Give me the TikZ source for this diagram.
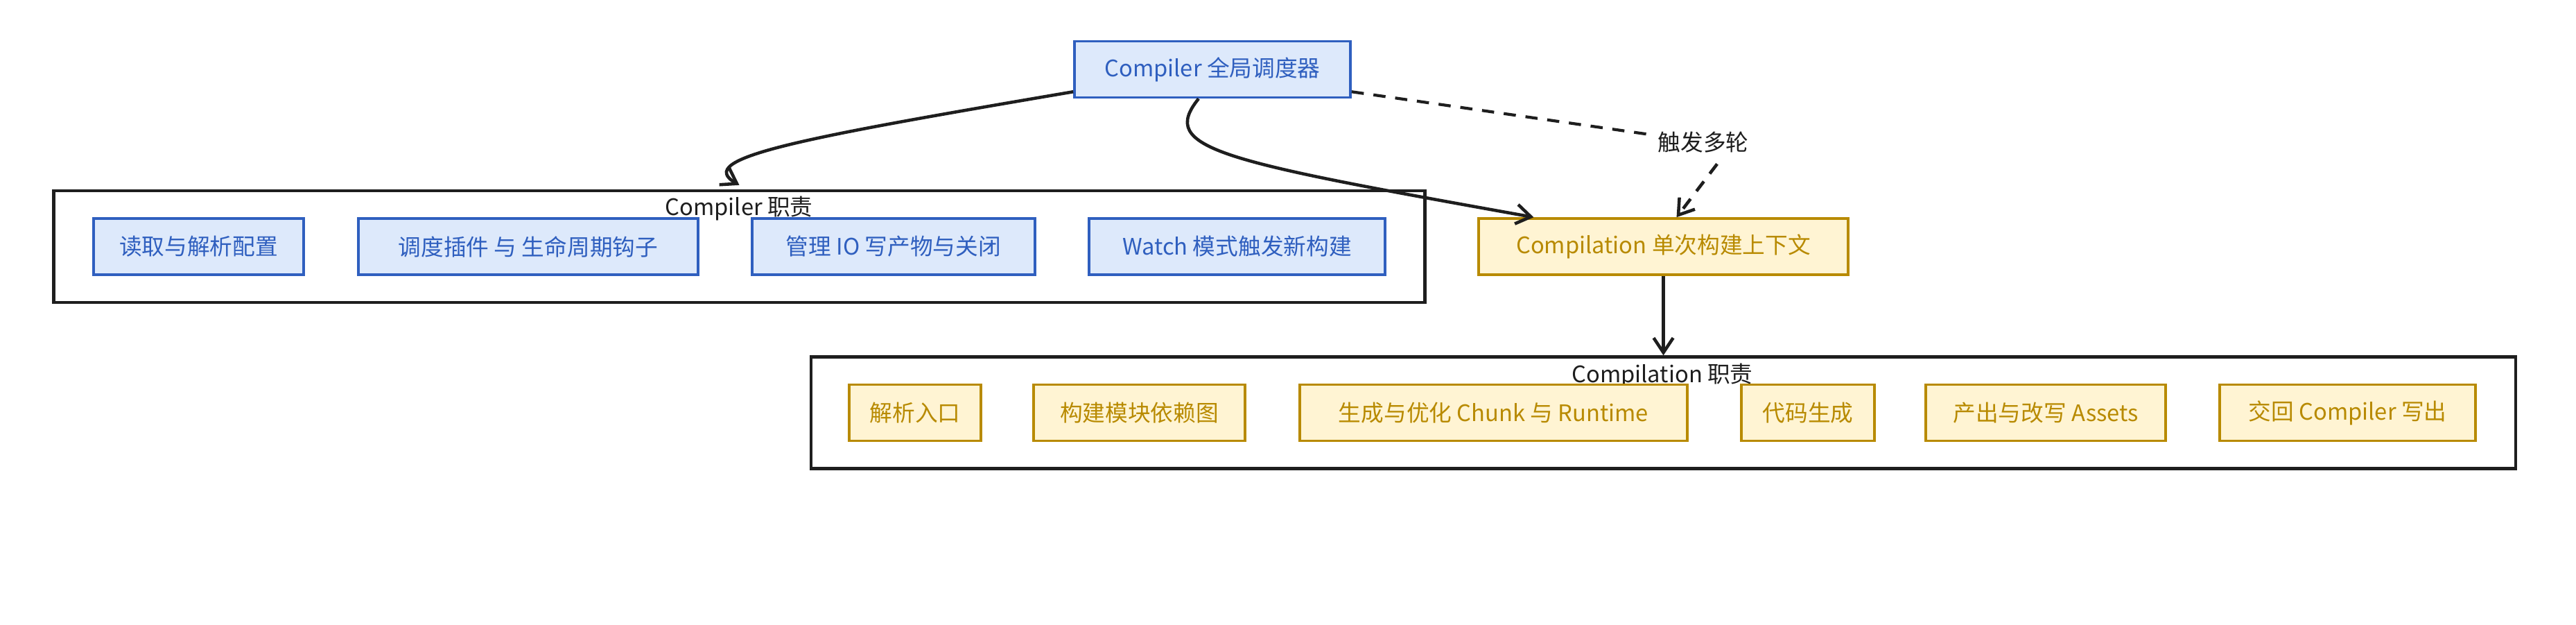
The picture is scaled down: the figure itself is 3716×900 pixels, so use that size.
\documentclass[tikz,border=0pt]{standalone}
\usepackage{fontspec}
\setmainfont{Noto Sans CJK SC}
\usepackage{tikz}
\usetikzlibrary{positioning,arrows,arrows.meta,calc}

\definecolor{roleblue}{HTML}{2F5FBF}
\definecolor{rolebluefill}{HTML}{DDE9FB}
\definecolor{rolegold}{HTML}{B88A00}
\definecolor{rolegoldfill}{HTML}{FFF4D3}
\definecolor{inkblack}{HTML}{1E1E1E}

\tikzset{
	cbox/.style={rectangle, draw=roleblue, fill=rolebluefill, text=roleblue, line width=1pt, minimum height=0.81cm, inner sep=0pt},
	pbox/.style={rectangle, draw=rolegold, fill=rolegoldfill, text=rolegold, line width=1pt, minimum height=0.81cm, inner sep=0pt},
	frame/.style={rectangle, draw=inkblack, line width=1.2pt, minimum height=1.61cm, inner sep=0pt},
	lbl/.style={text=inkblack, inner sep=1pt},
	flow/.style={draw=inkblack, line width=1.3pt, ->, >={Straight Barb[length=6pt,width=8pt]}},
	dashflow/.style={draw=inkblack, line width=1.2pt, dash pattern=on 5pt off 4pt}
}

\begin{document}
\begin{tikzpicture}[x=0.01cm, y=-0.01cm, font=\fontsize{9.3}{11}\selectfont]

\useasboundingbox (0,0) rectangle (3716,900);

\node[cbox, minimum width=3.98cm] (cmpr) at (1749,100) {Compiler 全局调度器};

% Compiler frame
\node[frame, minimum width=19.77cm] (cfr) at (1066.5,355.5) {};
\node[lbl] (cfrlbl) at (1066,301) {Compiler 职责};

\node[cbox, minimum width=3.03cm] (c1) at (286.5,355.5) {读取与解析配置};
\node[cbox, minimum width=4.90cm] (c2) at (762,355.5) {调度插件 与 生命周期钩子};
\node[cbox, minimum width=4.08cm] (c3) at (1289,355.5) {管理 IO 写产物与关闭};
\node[cbox, minimum width=4.27cm] (c4) at (1784.5,355.5) {Watch 模式触发新构建};

\node[pbox, minimum width=5.33cm] (cpl) at (2399.5,355.5) {Compilation 单次构建上下文};

% Compilation frame
\node[frame, minimum width=24.57cm] (pfr) at (2399.5,595) {};
\node[lbl] (pfrlbl) at (2398,541) {Compilation 职责};

\node[pbox, minimum width=1.90cm] (p1) at (1320,595) {解析入口};
\node[pbox, minimum width=3.05cm] (p2) at (1643.5,595) {构建模块依赖图};
\node[pbox, minimum width=5.59cm] (p3) at (2154.5,595) {生成与优化 Chunk 与 Runtime};
\node[pbox, minimum width=1.92cm] (p4) at (2608,595) {代码生成};
\node[pbox, minimum width=3.46cm] (p5) at (2951,595) {产出与改写 Assets};
\node[pbox, minimum width=3.69cm] (p6) at (3386.5,595) {交回 Compiler 写出};

\node[lbl, fill=white] (trig) at (2457,205) {触发多轮};

\draw[flow] ([yshift=0.1cm]cmpr.south west) .. controls (1150,200) and (1000,228) .. ([yshift=0.06cm]cfr.north);
\draw[flow] ([xshift=-0.2cm]cmpr.south) .. controls (1670,215) and (1760,232) .. ([xshift=-1.87cm]cpl.north);

\draw[dashflow] ([yshift=0.1cm]cmpr.south east) -- (trig);
\draw[dashflow, flow] ([xshift=0.2cm,yshift=-0.12cm]trig.south) -- ([xshift=0.19cm]cpl.north);

\draw[flow] (cpl) -- (pfr);

\end{tikzpicture}
\end{document}
